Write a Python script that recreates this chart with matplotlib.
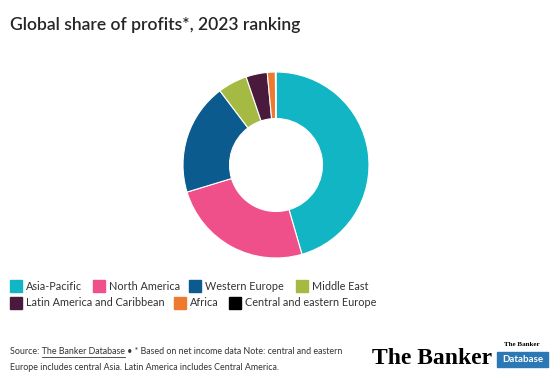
import matplotlib.pyplot as plt
from matplotlib.patches import Rectangle
from matplotlib.lines import Line2D

regions = ['Asia-Pacific', 'North America', 'Western Europe', 'Middle East',
           'Latin America and Caribbean', 'Africa', 'Central and eastern Europe']
shares = [45.5, 24.8, 19.4, 5.1, 3.7, 1.4, 0.1]
colors = ['#12b5c4', '#f0508a', '#0b5b8e', '#a5ba42', '#4a1a3c', '#ee7a30', '#000000']

W, H = 550, 375
fig = plt.figure(figsize=(5.5, 3.75), dpi=100)
plt.rcParams['font.family'] = ['Lato', 'DejaVu Sans']

# title
fig.text(10 / W, 1 - 25 / H, 'Global share of profits*, 2023 ranking',
         fontsize=12.6, fontweight='semibold', color='#262626', va='center', ha='left')

# donut
cx, cy, r = 276, 165, 93
ax = fig.add_axes([(cx - r) / W, 1 - (cy + r) / H, 2 * r / W, 2 * r / H])
ax.pie(shares, colors=colors, startangle=90, counterclock=False,
       wedgeprops=dict(width=0.5, edgecolor='white', linewidth=0.8))
ax.set_aspect('equal')
ax.set_xlim(-1, 1)
ax.set_ylim(-1, 1)

# legend laid out in flowing rows
legend_pos = [(10, 286), (93, 286), (189, 286), (296, 286),
              (10, 303), (174, 303), (229, 303)]
for (lx, ly), name, col in zip(legend_pos, regions, colors):
    fig.patches.append(Rectangle((lx / W, 1 - (ly + 6) / H), 12 / W, 12 / H,
                                 transform=fig.transFigure, color=col))
    fig.text((lx + 16) / W, 1 - ly / H, name, fontsize=7.8, color='#333333',
             va='center', ha='left')

# footer
fs = 6.4
fig.text(10 / W, 1 - 352 / H, 'Source: The Banker Database • * Based on net income data Note: central and eastern',
         fontsize=fs, color='#333333', va='center')
fig.text(10 / W, 1 - 367 / H, 'Europe includes central Asia. Latin America includes Central America.',
         fontsize=fs, color='#333333', va='center')

# underline the source name
fig.canvas.draw()
rend = fig.canvas.get_renderer()
t1 = fig.text(0, 0, 'Source: ', fontsize=fs)
t2 = fig.text(0, 0, 'Source: The Banker Database', fontsize=fs)
x0 = 10 + t1.get_window_extent(rend).width
x1 = 10 + t2.get_window_extent(rend).width
t1.remove()
t2.remove()
fig.add_artist(Line2D([x0 / W, x1 / W], [1 - 357 / H, 1 - 357 / H],
                      transform=fig.transFigure, color='#333333', lw=0.6))

# logo
fig.text(372 / W, 1 - 358 / H, 'The Banker', fontsize=17, fontweight='bold',
         family='Liberation Serif', color='black', va='center', ha='left')
fig.text(522 / W, 1 - 345 / H, 'The Banker', fontsize=5, fontweight='bold',
         family='Liberation Serif', color='black', va='center', ha='center')
fig.patches.append(Rectangle((497 / W, 1 - 367 / H), 51 / W, 15 / H,
                             transform=fig.transFigure, color='#2b78b5'))
fig.text(522.5 / W, 1 - 359.5 / H, 'Database', fontsize=7, fontweight='bold',
         color='white', va='center', ha='center')

fig.savefig('out.png', dpi=100)
